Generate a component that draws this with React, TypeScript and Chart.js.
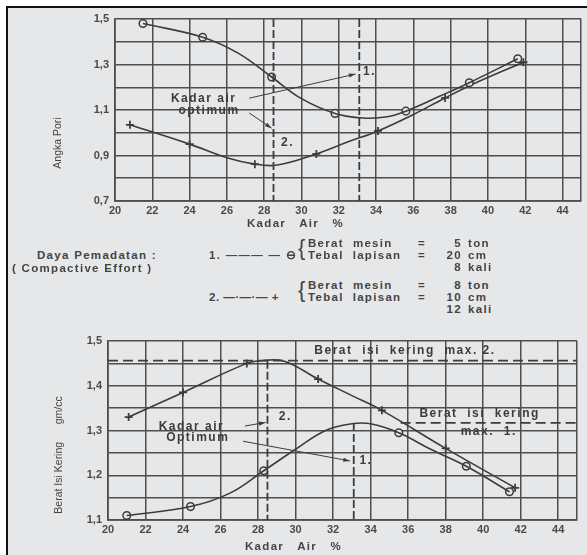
import React, { useEffect, useRef } from "react";
import { Chart, registerables } from "chart.js";
Chart.register(...registerables);

const BG = "#e6e7e9";
const INK = "#3c3c3c";
const GRID = "#4e4e4e";
const FONT = "'Liberation Sans', Arial, sans-serif";

// ---------- Top chart: Angka Pori ----------
const topXTicks = [20, 22, 24, 26, 28, 30, 32, 34, 36, 38, 40, 42, 44, 45];
const topXLabels = [20, 22, 24, 26, 28, 30, 32, 34, 36, 38, 40, 42, 44];
const topYTicks = [0.7, 0.8, 0.9, 1.0, 1.1, 1.2, 1.3, 1.4, 1.5];
const topYLabels = [0.7, 0.9, 1.1, 1.3, 1.5];

const pori1X = [21.5, 24.7, 28.4, 31.8, 35.6, 39.0, 41.6];
const pori1Y = [1.48, 1.42, 1.245, 1.085, 1.095, 1.22, 1.325];
const pori1CurveX = [21.5, 24.7, 26.6, 28.4, 30.0, 31.8, 33.3, 34.6, 35.6, 37.4, 39.0, 41.6];
const pori1CurveY = [1.48, 1.42, 1.35, 1.245, 1.15, 1.085, 1.065, 1.07, 1.095, 1.16, 1.22, 1.325];

const pori2X = [20.8, 24.0, 27.5, 30.8, 34.1, 37.7, 41.9];
const pori2Y = [1.035, 0.95, 0.862, 0.907, 1.008, 1.153, 1.31];
const pori2CurveX = [20.8, 24.0, 26.0, 27.5, 28.7, 30.8, 32.5, 34.1, 36.0, 37.7, 39.5, 41.9];
const pori2CurveY = [1.035, 0.95, 0.89, 0.862, 0.858, 0.907, 0.96, 1.008, 1.08, 1.153, 1.225, 1.31];

// ---------- Bottom chart: Berat Isi Kering ----------
const botXTicks = [20, 22, 24, 26, 28, 30, 32, 34, 36, 38, 40, 42, 44, 45];
const botXLabels = [20, 22, 24, 26, 28, 30, 32, 34, 36, 38, 40, 42, 44];
const botYTicks = [1.1, 1.15, 1.2, 1.25, 1.3, 1.35, 1.4, 1.45, 1.5];
const botYLabels = [1.1, 1.2, 1.3, 1.4, 1.5];

const berat1X = [21.0, 24.4, 28.3, 35.5, 39.1, 41.4];
const berat1Y = [1.11, 1.13, 1.21, 1.295, 1.22, 1.163];
const berat1CurveX = [21.0, 24.4, 26.5, 28.3, 30.0, 31.6, 33.0, 34.0, 35.5, 37.2, 39.1, 41.4];
const berat1CurveY = [1.11, 1.13, 1.16, 1.21, 1.258, 1.3, 1.315, 1.315, 1.295, 1.258, 1.22, 1.163];

const berat2X = [21.1, 24.0, 27.4, 31.2, 34.6, 38.0, 41.7];
const berat2Y = [1.33, 1.385, 1.45, 1.415, 1.345, 1.26, 1.172];
const berat2CurveX = [21.1, 24.0, 27.4, 28.2, 29.4, 31.2, 33.0, 34.6, 38.0, 41.7];
const berat2CurveY = [1.33, 1.385, 1.45, 1.456, 1.455, 1.415, 1.378, 1.345, 1.26, 1.172];

const optimum = [28.5, 33.1];
const maxDry = [1.456, 1.317];

const zip = (xs: number[], ys: number[]) => xs.map((x, i) => ({ x, y: ys[i] }));
const fmt = (v: number) => v.toFixed(1).replace(".", ",");
const has = (arr: number[], v: number) => arr.some((a) => Math.abs(a - v) < 1e-6);

const notesPlugin = {
  id: "notes",
  afterDatasetsDraw(chart: any, _a: any, opts: any) {
    const { ctx } = chart;
    const xs = chart.scales.x;
    const ys = chart.scales.y;
    const X = (v: number) => xs.getPixelForValue(v);
    const Y = (v: number) => ys.getPixelForValue(v);
    ctx.save();
    ctx.strokeStyle = INK;
    ctx.fillStyle = INK;
    for (const l of opts.lines || []) {
      ctx.setLineDash(l.dash || []);
      ctx.lineWidth = l.w || 1.8;
      ctx.beginPath();
      ctx.moveTo(X(l.x0), Y(l.y0));
      ctx.lineTo(X(l.x1), Y(l.y1));
      ctx.stroke();
    }
    ctx.setLineDash([]);
    for (const a of opts.arrows || []) {
      const x0 = X(a.x0), y0 = Y(a.y0), x1 = X(a.x1), y1 = Y(a.y1);
      ctx.lineWidth = 1;
      ctx.beginPath();
      ctx.moveTo(x0, y0);
      ctx.lineTo(x1, y1);
      ctx.stroke();
      const ang = Math.atan2(y1 - y0, x1 - x0);
      ctx.beginPath();
      ctx.moveTo(x1, y1);
      ctx.lineTo(x1 - 7 * Math.cos(ang - 0.3), y1 - 7 * Math.sin(ang - 0.3));
      ctx.lineTo(x1 - 7 * Math.cos(ang + 0.3), y1 - 7 * Math.sin(ang + 0.3));
      ctx.closePath();
      ctx.fill();
    }
    ctx.font = `bold 12px ${FONT}`;
    (ctx as any).letterSpacing = "1.5px";
    ctx.textBaseline = "middle";
    ctx.textAlign = "left";
    for (const t of opts.texts || []) {
      ctx.fillText(t.text, X(t.x), Y(t.y));
    }
    ctx.restore();
  },
};

function axes(xTicks: number[], xLabels: number[], yTicks: number[], yLabels: number[], yMin: number, yMax: number, yW: number, xH: number) {
  const tickFont = { family: FONT, size: 11, weight: "bold" as const };
  return {
    x: {
      type: "linear" as const,
      min: 20,
      max: 45,
      afterBuildTicks: (s: any) => { s.ticks = xTicks.map((v) => ({ value: v })); },
      afterFit: (s: any) => { s.height = xH; },
      ticks: { autoSkip: false, maxRotation: 0, color: "#4a4a4a", font: tickFont, padding: 3, callback: (v: any) => (has(xLabels, Number(v)) ? String(v) : "") },
      grid: { color: GRID, lineWidth: 1.5, drawTicks: false },
      border: { color: GRID, width: 1.7 },
    },
    y: {
      type: "linear" as const,
      min: yMin,
      max: yMax,
      afterBuildTicks: (s: any) => { s.ticks = yTicks.map((v) => ({ value: v })); },
      afterFit: (s: any) => { s.width = yW; },
      ticks: { autoSkip: false, color: "#4a4a4a", font: tickFont, padding: 6, callback: (v: any) => (has(yLabels, Number(v)) ? fmt(Number(v)) : "") },
      grid: { color: GRID, lineWidth: 1.5, drawTicks: false },
      border: { color: GRID, width: 1.7 },
    },
  };
}

function datasets(c1x: number[], c1y: number[], p1x: number[], p1y: number[], c2x: number[], c2y: number[], p2x: number[], p2y: number[]) {
  const curve = { showLine: true, pointRadius: 0, borderColor: INK, borderWidth: 1.6, tension: 0.4, fill: false };
  return [
    { ...curve, label: "1 curve", data: zip(c1x, c1y) },
    { label: "1", data: zip(p1x, p1y), showLine: false, pointStyle: "circle", pointRadius: 3.8, pointBorderWidth: 1.5, pointBorderColor: INK, pointBackgroundColor: BG },
    { ...curve, label: "2 curve", data: zip(c2x, c2y) },
    { label: "2", data: zip(p2x, p2y), showLine: false, pointStyle: "cross", pointRadius: 4, pointBorderWidth: 1.8, pointBorderColor: INK },
  ];
}

function useChart(ref: React.RefObject<HTMLCanvasElement>, build: () => any) {
  useEffect(() => {
    if (!ref.current) return;
    const chart = new Chart(ref.current, build());
    return () => chart.destroy();
  }, []);
}

export default function App() {
  const topRef = useRef<HTMLCanvasElement>(null);
  const botRef = useRef<HTMLCanvasElement>(null);

  useChart(topRef, () => ({
    type: "scatter",
    data: { datasets: datasets(pori1CurveX, pori1CurveY, pori1X, pori1Y, pori2CurveX, pori2CurveY, pori2X, pori2Y) },
    options: {
      animation: false,
      responsive: false,
      devicePixelRatio: 1,
      layout: { padding: { top: 19, right: 5, left: 0, bottom: 0 } },
      scales: axes(topXTicks, topXLabels, topYTicks, topYLabels, 0.7, 1.5, 115, 39),
      plugins: {
        legend: { display: false },
        tooltip: { enabled: false },
        notes: {
          lines: [
            { x0: optimum[0], y0: 1.5, x1: optimum[0], y1: 0.7, dash: [8, 3] },
            { x0: optimum[1], y0: 1.5, x1: optimum[1], y1: 0.7, dash: [8, 3] },
          ],
          arrows: [
            { x0: 27.2, y0: 1.152, x1: 32.9, y1: 1.258 },
            { x0: 27.2, y0: 1.087, x1: 28.4, y1: 1.02 },
          ],
          texts: [
            { text: "Kadar air", x: 23.0, y: 1.148 },
            { text: "optimum", x: 23.4, y: 1.098 },
            { text: "1.", x: 33.3, y: 1.267 },
            { text: "2.", x: 28.9, y: 0.955 },
          ],
        },
      },
    },
    plugins: [notesPlugin],
  }));

  useChart(botRef, () => ({
    type: "scatter",
    data: { datasets: datasets(berat1CurveX, berat1CurveY, berat1X, berat1Y, berat2CurveX, berat2CurveY, berat2X, berat2Y) },
    options: {
      animation: false,
      responsive: false,
      devicePixelRatio: 1,
      layout: { padding: { top: 21, right: 10, left: 0, bottom: 0 } },
      scales: axes(botXTicks, botXLabels, botYTicks, botYLabels, 1.1, 1.5, 108, 35),
      plugins: {
        legend: { display: false },
        tooltip: { enabled: false },
        notes: {
          lines: [
            { x0: 20, y0: maxDry[0], x1: 45, y1: maxDry[0], dash: [10, 5] },
            { x0: 35.6, y0: maxDry[1], x1: 45, y1: maxDry[1], dash: [10, 5] },
            { x0: optimum[0], y0: maxDry[0], x1: optimum[0], y1: 1.1, dash: [8, 3] },
            { x0: optimum[1], y0: maxDry[1], x1: optimum[1], y1: 1.1, dash: [8, 3] },
          ],
          arrows: [
            { x0: 27.3, y0: 1.31, x1: 28.4, y1: 1.318 },
            { x0: 27.2, y0: 1.276, x1: 32.9, y1: 1.232 },
          ],
          texts: [
            { text: "Berat  isi  kering  max. 2.", x: 31.0, y: 1.478 },
            { text: "Berat  isi  kering", x: 36.6, y: 1.337 },
            { text: "max.  1.", x: 38.8, y: 1.298 },
            { text: "Kadar air", x: 22.7, y: 1.308 },
            { text: "Optimum", x: 23.1, y: 1.283 },
            { text: "2.", x: 29.1, y: 1.33 },
            { text: "1.", x: 33.4, y: 1.232 },
          ],
        },
      },
    },
    plugins: [notesPlugin],
  }));

  const txt: React.CSSProperties = { position: "absolute", font: `bold 11.5px ${FONT}`, color: "#444", letterSpacing: "1.3px", whiteSpace: "pre", lineHeight: "14px" };
  const rot = (cx: number, cy: number): React.CSSProperties => ({ ...txt, font: `10.5px ${FONT}`, letterSpacing: "0px", left: cx, top: cy, transform: "translate(-50%, -50%) rotate(-90deg)" });

  return (
    <div style={{ position: "absolute", left: 0, top: 0, width: 587, height: 555, background: "#ffffff", overflow: "hidden" }}>
      <div style={{ position: "absolute", left: 6, top: 6, width: 581, height: 549, background: BG, borderLeft: "2px solid #111", borderTop: "2px solid #111" }} />
      <canvas ref={topRef} width={587} height={240} style={{ position: "absolute", left: 0, top: 0 }} />
      <canvas ref={botRef} width={587} height={235} style={{ position: "absolute", left: 0, top: 320 }} />

      <div style={rot(57, 143)}>Angka Pori</div>
      <div style={{ ...txt, left: 247, top: 216 }}>{"Kadar   Air   %"}</div>

      <div style={{ ...txt, left: 37, top: 248 }}>{"Daya Pemadatan :"}</div>
      <div style={{ ...txt, left: 12, top: 261 }}>{"( Compactive Effort )"}</div>

      <div style={{ ...txt, left: 209, top: 248 }}>{"1. ——— — ⊖"}</div>
      <div style={{ ...txt, left: 298, top: 234, font: `22px ${FONT}`, lineHeight: "28px" }}>{"{"}</div>
      <div style={{ ...txt, left: 308, top: 236 }}>{"Berat  mesin"}</div>
      <div style={{ ...txt, left: 308, top: 248 }}>{"Tebal  lapisan"}</div>
      <div style={{ ...txt, left: 418, top: 236 }}>{"="}</div>
      <div style={{ ...txt, left: 418, top: 248 }}>{"="}</div>
      <div style={{ ...txt, left: 430, top: 236, width: 32, textAlign: "right" }}>{"5"}</div>
      <div style={{ ...txt, left: 430, top: 248, width: 32, textAlign: "right" }}>{"20"}</div>
      <div style={{ ...txt, left: 430, top: 260, width: 32, textAlign: "right" }}>{"8"}</div>
      <div style={{ ...txt, left: 468, top: 236 }}>{"ton"}</div>
      <div style={{ ...txt, left: 468, top: 248 }}>{"cm"}</div>
      <div style={{ ...txt, left: 468, top: 260 }}>{"kali"}</div>

      <div style={{ ...txt, left: 209, top: 290, letterSpacing: "0.5px" }}>{"2. —·—·— +"}</div>
      <div style={{ ...txt, left: 298, top: 276, font: `22px ${FONT}`, lineHeight: "28px" }}>{"{"}</div>
      <div style={{ ...txt, left: 308, top: 278 }}>{"Berat  mesin"}</div>
      <div style={{ ...txt, left: 308, top: 290 }}>{"Tebal  lapisan"}</div>
      <div style={{ ...txt, left: 418, top: 278 }}>{"="}</div>
      <div style={{ ...txt, left: 418, top: 290 }}>{"="}</div>
      <div style={{ ...txt, left: 430, top: 278, width: 32, textAlign: "right" }}>{"8"}</div>
      <div style={{ ...txt, left: 430, top: 290, width: 32, textAlign: "right" }}>{"10"}</div>
      <div style={{ ...txt, left: 430, top: 302, width: 32, textAlign: "right" }}>{"12"}</div>
      <div style={{ ...txt, left: 468, top: 278 }}>{"ton"}</div>
      <div style={{ ...txt, left: 468, top: 290 }}>{"cm"}</div>
      <div style={{ ...txt, left: 468, top: 302 }}>{"kali"}</div>

      <div style={rot(58, 455)}>{"Berat Isi Kering      gm/cc"}</div>
      <div style={{ ...txt, left: 245, top: 539 }}>{"Kadar   Air   %"}</div>
    </div>
  );
}
